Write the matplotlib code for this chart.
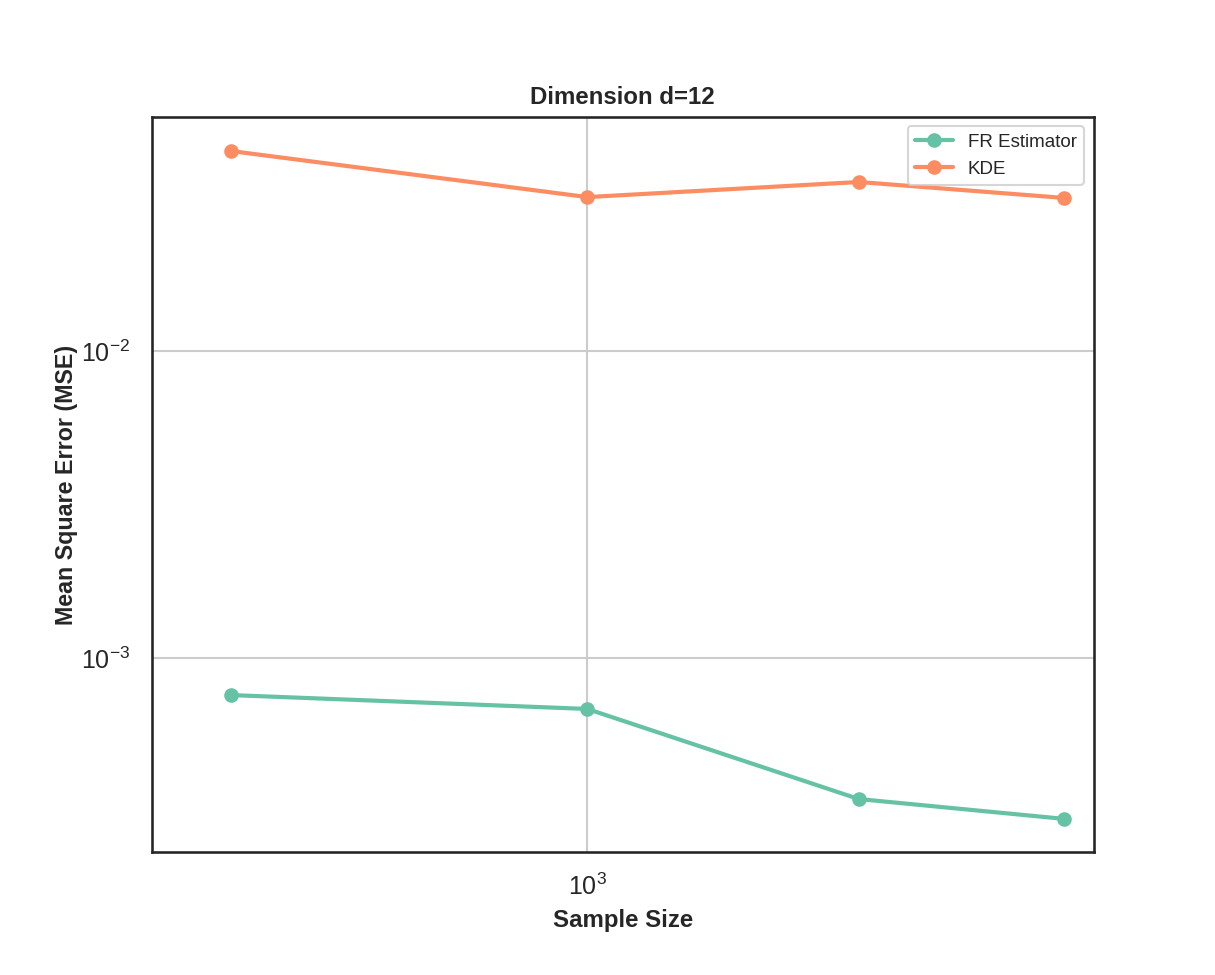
import matplotlib
matplotlib.use("Agg")
import matplotlib.pyplot as plt
import seaborn as sns

# data
sample_sizes = [300, 1000, 2500, 5000]
mse_fr = [7.57e-4, 6.82e-4, 3.47e-4, 2.99e-4]
mse_kde = [4.48e-2, 3.17e-2, 3.55e-2, 3.15e-2]
series_labels = ["FR Estimator", "KDE"]

sns.set_style("white")
plt.rcParams['font.family'] = ['Liberation Sans', 'DejaVu Sans']
plt.rcParams['mathtext.fontset'] = 'custom'
plt.rcParams['mathtext.rm'] = 'Liberation Sans'
plt.rcParams['mathtext.it'] = 'Liberation Sans:italic'
plt.rcParams['mathtext.bf'] = 'Liberation Sans:bold'

colors = sns.color_palette("Set2")

fig, ax = plt.subplots(figsize=(8.1, 6.5), dpi=150)
fig.subplots_adjust(left=0.125, right=0.9, top=0.88, bottom=0.126)

ax.plot(sample_sizes, mse_fr, marker='o', color=colors[0], linewidth=2,
        markersize=6, label=series_labels[0])
ax.plot(sample_sizes, mse_kde, marker='o', color=colors[1], linewidth=2,
        markersize=6, label=series_labels[1])

ax.set_xscale('log')
ax.set_yscale('log')
ax.set_xlim(230, 5520)
ax.set_ylim(2.33e-4, 5.78e-2)
ax.grid(True, which='major', color='.8', linewidth=1)

for sp in ax.spines.values():
    sp.set_color('.15')
    sp.set_linewidth(1.25)

ax.tick_params(labelsize=12, colors='.15', pad=7)
ax.set_title('Dimension d=12', fontsize=11.5, fontweight='bold', color='.15')
ax.set_xlabel('Sample Size', fontsize=11.5, fontweight='bold', color='.15')
ax.set_ylabel('Mean Square Error (MSE)', fontsize=11.2, fontweight='bold',
              color='.15', labelpad=1.5)
ax.legend(loc='upper right', fontsize=9)

fig.savefig('out.png', dpi=150)
